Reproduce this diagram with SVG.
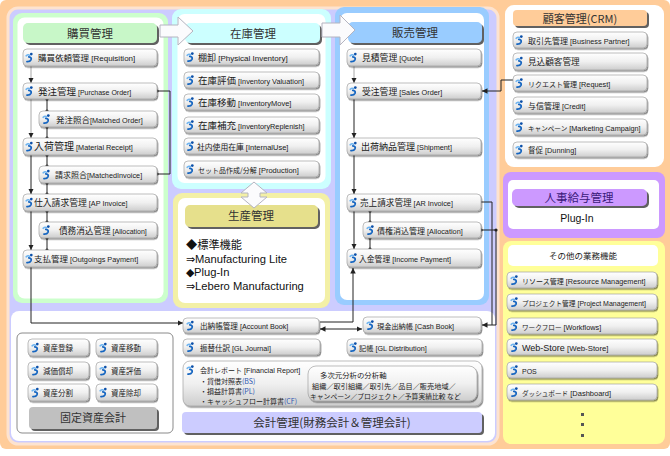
<svg xmlns="http://www.w3.org/2000/svg" width="670" height="456" viewBox="0 0 670 456">
<defs>
<linearGradient id="g" x1="0" y1="0" x2="0" y2="1"><stop offset="0" stop-color="#ffffff"/><stop offset=".5" stop-color="#f0f0f0"/><stop offset="1" stop-color="#cdcdcd"/></linearGradient>
<filter id="ds" x="-10%" y="-30%" width="120%" height="170%"><feDropShadow dx="1" dy="1.4" stdDeviation=".6" flood-color="#000" flood-opacity=".45"/></filter>
<filter id="hs" x="-10%" y="-30%" width="120%" height="170%"><feDropShadow dx="2" dy="2" stdDeviation=".4" flood-color="#444" flood-opacity=".85"/></filter>
<symbol id="ic" viewBox="0 0 10 12"><path d="M1.2,4.2 Q3.5,2.2 5.2,3.6" fill="none" stroke="#6db3f0" stroke-width="1.6" stroke-linecap="round"/><circle cx="7" cy="2.2" r="1.5" fill="#0b4fa8"/><path d="M4.2,5.2 Q7.8,5.6 6.6,8.6 Q5.6,10.8 2.2,10.6" fill="none" stroke="#1565c0" stroke-width="2" stroke-linecap="round"/></symbol>
<marker id="ar" viewBox="0 0 6 6" refX="6" refY="3" markerWidth="5.5" markerHeight="5.5" markerUnits="userSpaceOnUse" orient="auto-start-reverse"><path d="M0,0 L6,3 L0,6 z" fill="#222"/></marker>
<marker id="dt" viewBox="0 0 4 4" refX="2" refY="2" markerWidth="4" markerHeight="4" markerUnits="userSpaceOnUse"><circle cx="2" cy="2" r="1.6" fill="#222"/></marker>
<style>
.b{fill:url(#g);stroke:#a2a2a2;stroke-width:.7;filter:url(#ds)}
.j{font-family:"Noto Sans CJK JP","Noto Sans CJK SC",sans-serif;font-size:8.5px;fill:#1a1a1a}
.e{font-family:"Liberation Sans",Arial,sans-serif;font-size:7.3px;fill:#1a1a1a}
.h{font-family:"Noto Sans CJK JP","Noto Sans CJK SC",sans-serif;font-size:11.5px;fill:#333;text-anchor:middle}
.hd{filter:url(#hs)}
.l{fill:none;stroke:#222;stroke-width:1}
.lg{fill:none;stroke:#a8a8a8;stroke-width:1}
.bl{fill:#2d55b0}
.wa{fill:#fbfbfd;stroke:#b4b4c0;stroke-width:1}
</style>
</defs>

<g id="background">
<rect x="0" y="0" width="670" height="456" fill="#fff"/>
<rect x="0" y="0" width="670" height="449" rx="6" fill="#ffcc99"/>
<rect x="8" y="8" width="490" height="436" rx="10" fill="#ccccff" stroke="#fde3d0" stroke-width="3"/>
<rect x="13" y="13" width="155" height="290" rx="9" fill="#ccffcc"/>
<rect x="17.5" y="17.5" width="146" height="281" rx="7" fill="#fff"/>
<rect x="172" y="9" width="159" height="180" rx="9" fill="#ccffff"/>
<rect x="177.5" y="14" width="148" height="169" rx="7" fill="#fff"/>
<rect x="173" y="193" width="157" height="115" rx="9" fill="#f3f0a6"/>
<rect x="178" y="198" width="147" height="105" rx="7" fill="#fff"/>
<rect x="335" y="7" width="154" height="298" rx="9" fill="#99ccff"/>
<rect x="340" y="13" width="144" height="287" rx="7" fill="#fff"/>
<rect x="11" y="311" width="484" height="130" rx="8" fill="#fff"/>
<rect x="505" y="5" width="159" height="162" rx="9" fill="#fff"/>
<rect x="503" y="172" width="162" height="66" rx="8" fill="#cc99ff"/>
<rect x="508" y="180" width="151" height="49" rx="5" fill="#fff"/>
<rect x="503" y="241" width="162" height="203" rx="8" fill="#ffff99"/>
<rect x="508" y="245" width="150" height="21" rx="5" fill="#fff"/>
<rect x="17" y="333" width="156" height="100" rx="5" fill="#fff" stroke="#8a8a8a" stroke-width="1"/>
</g>

<g id="headers">
<g id="h-purchase"><rect class="hd" x="23" y="23" width="134" height="20" rx="5" fill="#c8f7c8"/><text class="h" x="90" y="37.5">購買管理</text></g>
<g id="h-inventory"><rect class="hd" x="185" y="23" width="135" height="20" rx="5" fill="#ccffff"/><text class="h" x="253" y="37.5">在庫管理</text></g>
<g id="h-sales"><rect class="hd" x="348" y="22" width="134" height="21" rx="5" fill="#99ccff"/><text class="h" x="415" y="37">販売管理</text></g>
<g id="h-production"><rect class="hd" x="185" y="205" width="133" height="22" rx="5" fill="#e6e08c"/><text class="h" x="251" y="220">生産管理</text></g>
<g id="h-crm"><rect class="hd" x="513" y="10" width="134" height="16" rx="4" fill="#ffcc99"/><text class="h" x="580" y="22.5" style="font-size:11px">顧客管理(CRM)</text></g>
<g id="h-hr"><rect class="hd" x="512" y="189" width="135" height="17" rx="5" fill="#cc99ff"/><text class="h" x="579" y="202" style="fill:#3a1a7a">人事給与管理</text></g>
<g id="h-fixed"><rect class="hd" x="29" y="407" width="128" height="22" rx="4" fill="#c0c0c0"/><text class="h" x="93" y="422" style="font-size:11px">固定資産会計</text></g>
<g id="h-accounting"><rect class="hd" x="182" y="412" width="300" height="21" rx="4" fill="#ccccff"/><text class="h" x="332" y="427">会計管理(財務会計＆管理会計)</text></g>
</g>

<g id="flow-arrows">
<polygon class="wa" points="160,25 178,25 178,17 193,31 178,45 178,37 160,37"/>
<polygon class="wa" points="322,23 340,23 340,15 355,30 340,45 340,37 322,37"/>
<polygon class="wa" points="254,182 267,193 260,193 260,197 267,197 254,208 241,197 248,197 248,193 241,193"/>
</g>

<g id="production-text" font-family="Liberation Sans, Arial, sans-serif" font-size="11.2" fill="#111">
<text x="186" y="249"><tspan font-family="Noto Sans CJK JP, sans-serif">◆標準機能</tspan></text>
<text x="186" y="262.5">⇒Manufacturing  Lite</text>
<text x="186" y="276">◆Plug-In</text>
<text x="186" y="289.5">⇒Lebero Manufacturing</text>
</g>
<g id="hr-text"><text x="577" y="222" font-family="Liberation Sans, Arial, sans-serif" font-size="10.5" fill="#111" text-anchor="middle">Plug-In</text></g>
<g id="other-title"><text x="583" y="259" class="j" text-anchor="middle">その他の業務機能</text></g>

<g id="connectors">
<path class="lg" d="M31,66 V83" marker-end="url(#ar)"/>
<path class="lg" d="M31,99 V138" marker-end="url(#ar)"/>
<path class="l" d="M31,155 V194" marker-end="url(#ar)"/>
<path class="l" d="M31,211 V250" marker-end="url(#ar)"/>
<path class="l" d="M31,267 V323 H183" marker-end="url(#ar)"/>
<path class="l" d="M47,99 V111" marker-start="url(#dt)" marker-end="url(#dt)"/>
<path class="l" d="M47,127 V138" marker-start="url(#dt)" marker-end="url(#dt)"/>
<path class="l" d="M47,155 V166" marker-start="url(#dt)" marker-end="url(#dt)"/>
<path class="l" d="M47,183 V194" marker-start="url(#dt)" marker-end="url(#dt)"/>
<path class="l" d="M47,211 V222" marker-start="url(#dt)" marker-end="url(#dt)"/>
<path class="l" d="M47,238 V250" marker-start="url(#dt)" marker-end="url(#dt)"/>
<path class="l" d="M157,91 H170 V174 H157" marker-start="url(#dt)" marker-end="url(#dt)"/>
<path class="lg" d="M354,66 V83" marker-end="url(#ar)"/>
<path class="l" d="M354,99 V138" marker-end="url(#ar)"/>
<path class="l" d="M354,155 V194" marker-end="url(#ar)"/>
<path class="l" d="M354,211 V249" marker-end="url(#ar)"/>
<path class="l" d="M370,211 V222" marker-start="url(#dt)" marker-end="url(#dt)"/>
<path class="l" d="M370,238 V249" marker-start="url(#dt)" marker-end="url(#dt)"/>
<path class="l" d="M513,80 H501 V91 H482" marker-end="url(#ar)"/>
<path class="l" d="M481,202 H492 V325 H482" marker-end="url(#ar)"/>
<path class="l" d="M481,230 H496 V325 H492" marker-start="url(#dt)"/>
<circle cx="496" cy="230" r="1.6" fill="#222"/>
<path class="l" d="M320,322 H353 V268" marker-end="url(#ar)"/>
<path class="l" d="M320,329 H362" marker-start="url(#ar)" marker-end="url(#ar)"/>
</g>

<g id="purchase">
<g id="n-requisition"><rect class="b" x="23" y="49" width="134" height="17" rx="4"/><use href="#ic" x="25" y="52" width="9" height="11"/><text x="38" y="60.5"><tspan class="j">購買依頼管理</tspan><tspan class="e" style="font-size:8px"> [Requisition]</tspan></text></g>
<g id="n-po"><rect class="b" x="23" y="83" width="134" height="16" rx="4"/><use href="#ic" x="25" y="85.5" width="9" height="11"/><text x="38" y="94.5"><tspan class="j" style="font-size:9.5px">発注管理</tspan><tspan class="e" style="font-size:7px"> [Purchase Order]</tspan></text></g>
<g id="n-matched-order"><rect class="b" x="39" y="111" width="118" height="16" rx="4"/><use href="#ic" x="42" y="113.5" width="9" height="11"/><text x="56" y="122.5"><tspan class="j" style="font-size:8.5px">発注照合</tspan><tspan class="e">[Matched Order]</tspan></text></g>
<g id="n-receipt"><rect class="b" x="23" y="138" width="134" height="17" rx="4"/><use href="#ic" x="25" y="141" width="9" height="11"/><text x="34" y="150"><tspan class="j" style="font-size:10px">入荷管理</tspan><tspan class="e"> [Material Receipt]</tspan></text></g>
<g id="n-matched-invoice"><rect class="b" x="39" y="166" width="118" height="17" rx="4"/><use href="#ic" x="42" y="169" width="9" height="11"/><text x="55" y="178"><tspan class="j" style="font-size:8px">請求照合</tspan><tspan class="e">[MatchedInvoice]</tspan></text></g>
<g id="n-ap-invoice"><rect class="b" x="23" y="194" width="134" height="17" rx="4"/><use href="#ic" x="25" y="197" width="9" height="11"/><text x="34" y="206"><tspan class="j" style="font-size:8.8px">仕入請求管理</tspan><tspan class="e"> [AP Invoice]</tspan></text></g>
<g id="n-ap-allocation"><rect class="b" x="39" y="222" width="118" height="16" rx="4"/><use href="#ic" x="42" y="224.5" width="9" height="11"/><text x="59" y="233.5"><tspan class="j" style="font-size:8.6px">債務消込管理</tspan><tspan class="e" style="font-size:7px"> [Allocation]</tspan></text></g>
<g id="n-payment"><rect class="b" x="23" y="250" width="134" height="17" rx="4"/><use href="#ic" x="25" y="253" width="9" height="11"/><text x="34" y="262"><tspan class="j">支払管理</tspan><tspan class="e"> [Outgoings Payment]</tspan></text></g>
</g>

<g id="inventory">
<g id="n-physical"><rect class="b" x="184" y="49" width="135" height="16" rx="4"/><use href="#ic" x="186" y="51.5" width="9" height="11"/><text x="198" y="60.5"><tspan class="j" style="font-size:9px">棚卸</tspan><tspan class="e" style="font-size:8px"> [Physical Inventory]</tspan></text></g>
<g id="n-valuation"><rect class="b" x="184" y="72" width="135" height="16" rx="4"/><use href="#ic" x="186" y="74.5" width="9" height="11"/><text x="198" y="84"><tspan class="j" style="font-size:9.5px">在庫評価</tspan><tspan class="e"> [Inventory Valuation]</tspan></text></g>
<g id="n-move"><rect class="b" x="184" y="94" width="135" height="16" rx="4"/><use href="#ic" x="186" y="96.5" width="9" height="11"/><text x="198" y="106"><tspan class="j" style="font-size:9.5px">在庫移動</tspan><tspan class="e" style="font-size:7.5px"> [InventoryMove]</tspan></text></g>
<g id="n-replenish"><rect class="b" x="184" y="117" width="135" height="16" rx="4"/><use href="#ic" x="186" y="119.5" width="9" height="11"/><text x="198" y="129"><tspan class="j" style="font-size:9.5px">在庫補充</tspan><tspan class="e"> [InventoryReplenish]</tspan></text></g>
<g id="n-internal"><rect class="b" x="184" y="138" width="135" height="16" rx="4"/><use href="#ic" x="186" y="140.5" width="9" height="11"/><text x="197" y="149.5"><tspan class="j" style="font-size:7.8px">社内使用在庫</tspan><tspan class="e" style="font-size:7.5px"> [InternalUse]</tspan></text></g>
<g id="n-production-set"><rect class="b" x="184" y="161" width="135" height="16" rx="4"/><use href="#ic" x="186" y="163.5" width="9" height="11"/><text x="198" y="172.5"><tspan class="j" style="font-size:7px">セット品作成/分解</tspan><tspan class="e" style="font-size:7.5px"> [Production]</tspan></text></g>
</g>

<g id="sales">
<g id="n-quote"><rect class="b" x="347" y="49" width="134" height="17" rx="4"/><use href="#ic" x="349" y="52" width="9" height="11"/><text x="362" y="61"><tspan class="j" style="font-size:8.8px">見積管理</tspan><tspan class="e"> [Quote]</tspan></text></g>
<g id="n-sales-order"><rect class="b" x="347" y="83" width="134" height="16" rx="4"/><use href="#ic" x="349" y="85.5" width="9" height="11"/><text x="362" y="94.5"><tspan class="j" style="font-size:8.8px">受注管理</tspan><tspan class="e"> [Sales Order]</tspan></text></g>
<g id="n-shipment"><rect class="b" x="347" y="138" width="134" height="17" rx="4"/><use href="#ic" x="349" y="141" width="9" height="11"/><text x="361" y="150"><tspan class="j" style="font-size:9px">出荷納品管理</tspan><tspan class="e"> [Shipment]</tspan></text></g>
<g id="n-ar-invoice"><rect class="b" x="347" y="194" width="134" height="17" rx="4"/><use href="#ic" x="349" y="197" width="9" height="11"/><text x="360" y="206"><tspan class="j" style="font-size:8.6px">売上請求管理</tspan><tspan class="e"> [AR Invoice]</tspan></text></g>
<g id="n-ar-allocation"><rect class="b" x="363" y="222" width="118" height="16" rx="4"/><use href="#ic" x="366" y="224.5" width="9" height="11"/><text x="377" y="233.5"><tspan class="j" style="font-size:8px">債権消込管理</tspan><tspan class="e"> [Allocation]</tspan></text></g>
<g id="n-income"><rect class="b" x="347" y="249" width="134" height="18" rx="4"/><use href="#ic" x="349" y="252.5" width="9" height="11"/><text x="359" y="261.5"><tspan class="j" style="font-size:7.8px">入金管理</tspan><tspan class="e"> [Income Payment]</tspan></text></g>
</g>

<g id="crm">
<g id="n-bp"><rect class="b" x="513" y="32" width="134" height="16" rx="4"/><use href="#ic" x="515" y="34.5" width="9" height="11"/><text x="528" y="43.5"><tspan class="j" style="font-size:8px">取引先管理</tspan><tspan class="e"> [Business Partner]</tspan></text></g>
<g id="n-prospect"><rect class="b" x="513" y="53" width="134" height="17" rx="4"/><use href="#ic" x="515" y="56" width="9" height="11"/><text x="528" y="65"><tspan class="j" style="font-size:8.6px">見込顧客管理</tspan></text></g>
<g id="n-request"><rect class="b" x="513" y="75" width="134" height="16" rx="4"/><use href="#ic" x="515" y="77.5" width="9" height="11"/><text x="528" y="86.5"><tspan class="j" style="font-size:7px">リクエスト管理</tspan><tspan class="e"> [Request]</tspan></text></g>
<g id="n-credit"><rect class="b" x="513" y="97" width="134" height="16" rx="4"/><use href="#ic" x="515" y="99.5" width="9" height="11"/><text x="528" y="108.5"><tspan class="j" style="font-size:8px">与信管理</tspan><tspan class="e"> [Credit]</tspan></text></g>
<g id="n-campaign"><rect class="b" x="513" y="119" width="134" height="16" rx="4"/><use href="#ic" x="515" y="121.5" width="9" height="11"/><text x="528" y="130.5"><tspan class="j" style="font-size:6.6px">キャンペーン</tspan><tspan class="e"> [Marketing Campaign]</tspan></text></g>
<g id="n-dunning"><rect class="b" x="513" y="142" width="134" height="15" rx="4"/><use href="#ic" x="515" y="144" width="9" height="11"/><text x="528" y="153"><tspan class="j" style="font-size:7.5px">督促</tspan><tspan class="e"> [Dunning]</tspan></text></g>
</g>

<g id="other">
<g id="n-resource"><rect class="b" x="507" y="272" width="150" height="16" rx="4"/><use href="#ic" x="510" y="274.5" width="9" height="11"/><text x="522" y="283.5"><tspan class="j" style="font-size:7px">リソース管理</tspan><tspan class="e"> [Resource Management]</tspan></text></g>
<g id="n-project"><rect class="b" x="507" y="294" width="150" height="16" rx="4"/><use href="#ic" x="510" y="296.5" width="9" height="11"/><text x="522" y="305.5"><tspan class="j" style="font-size:6.7px">プロジェクト管理</tspan><tspan class="e" style="font-size:7px"> [Project Management]</tspan></text></g>
<g id="n-workflow"><rect class="b" x="507" y="318" width="150" height="16" rx="4"/><use href="#ic" x="510" y="320.5" width="9" height="11"/><text x="522" y="329.5"><tspan class="j" style="font-size:6.6px">ワークフロー</tspan><tspan class="e"> [Workflows]</tspan></text></g>
<g id="n-webstore"><rect class="b" x="507" y="339" width="150" height="16" rx="4"/><use href="#ic" x="510" y="341.5" width="9" height="11"/><text x="522" y="351"><tspan class="e" style="font-size:9px">Web-Store</tspan><tspan class="e" style="font-size:7.8px"> [Web-Store]</tspan></text></g>
<g id="n-pos"><rect class="b" x="507" y="362" width="150" height="16" rx="4"/><use href="#ic" x="510" y="364.5" width="9" height="11"/><text x="522" y="373.5"><tspan class="e" style="font-size:7px">POS</tspan></text></g>
<g id="n-dashboard"><rect class="b" x="507" y="384" width="150" height="16" rx="4"/><use href="#ic" x="510" y="386.5" width="9" height="11"/><text x="522" y="395.5"><tspan class="j" style="font-size:6.6px">ダッシュボード</tspan><tspan class="e" style="font-size:7.5px"> [Dashboard]</tspan></text></g>
<rect x="581" y="413" width="3" height="3" fill="#555"/>
<rect x="581" y="423" width="3" height="3" fill="#555"/>
<rect x="581" y="434" width="3" height="3" fill="#555"/>
</g>

<g id="fixed-assets">
<g id="n-fa1"><rect class="b" x="28" y="339" width="61" height="17" rx="4"/><use href="#ic" x="31" y="342" width="9" height="11"/><text x="43" y="350.5" class="j" style="font-size:7.5px">資産登録</text></g>
<g id="n-fa2"><rect class="b" x="96" y="339" width="61" height="17" rx="4"/><use href="#ic" x="99" y="342" width="9" height="11"/><text x="111" y="350.5" class="j" style="font-size:7.5px">資産移動</text></g>
<g id="n-fa3"><rect class="b" x="28" y="362" width="61" height="17" rx="4"/><use href="#ic" x="31" y="365" width="9" height="11"/><text x="43" y="373.5" class="j" style="font-size:7.5px">減価償却</text></g>
<g id="n-fa4"><rect class="b" x="96" y="362" width="61" height="17" rx="4"/><use href="#ic" x="99" y="365" width="9" height="11"/><text x="111" y="373.5" class="j" style="font-size:7.5px">資産評価</text></g>
<g id="n-fa5"><rect class="b" x="28" y="384" width="61" height="17" rx="4"/><use href="#ic" x="31" y="387" width="9" height="11"/><text x="43" y="395.5" class="j" style="font-size:7.5px">資産分割</text></g>
<g id="n-fa6"><rect class="b" x="96" y="384" width="61" height="17" rx="4"/><use href="#ic" x="99" y="387" width="9" height="11"/><text x="111" y="395.5" class="j" style="font-size:7.5px">資産除却</text></g>
</g>

<g id="accounting">
<g id="n-account-book"><rect class="b" x="183" y="318" width="136" height="15" rx="4"/><use href="#ic" x="186" y="320" width="9" height="11"/><text x="200" y="328.5"><tspan class="j" style="font-size:7.6px">出納帳管理</tspan><tspan class="e" style="font-size:7.2px"> [Account Book]</tspan></text></g>
<g id="n-gl-journal"><rect class="b" x="183" y="339" width="137" height="16" rx="4"/><use href="#ic" x="186" y="341.5" width="9" height="11"/><text x="200" y="350.5"><tspan class="j" style="font-size:7.5px">振替仕訳</tspan><tspan class="e" style="font-size:7.2px"> [GL Journal]</tspan></text></g>
<g id="n-cash-book"><rect class="b" x="363" y="317" width="118" height="16" rx="4"/><use href="#ic" x="366" y="319.5" width="9" height="11"/><text x="377" y="328.5"><tspan class="j" style="font-size:7.2px">現金出納帳</tspan><tspan class="e" style="font-size:7.2px"> [Cash Book]</tspan></text></g>
<g id="n-gl-dist"><rect class="b" x="347" y="339" width="135" height="16" rx="4"/><use href="#ic" x="349" y="341.5" width="9" height="11"/><text x="359" y="350.5"><tspan class="j" style="font-size:7.2px">記帳</tspan><tspan class="e" style="font-size:7.2px"> [GL Distribution]</tspan></text></g>
<g id="n-report">
<rect class="b" x="183" y="361" width="299" height="45" rx="7"/>
<use href="#ic" x="186" y="364.5" width="9" height="11"/>
<text x="200" y="373"><tspan class="j" style="font-size:7px">会計レポート</tspan><tspan class="e" style="font-size:7.2px"> [Financial Report]</tspan></text>
<text x="200" y="383.5" class="j" style="font-size:7px">・貸借対照表<tspan class="bl">(BS)</tspan></text>
<text x="200" y="393.5" class="j" style="font-size:7px">・損益計算書<tspan class="bl">(PL)</tspan></text>
<text x="200" y="403.5" class="j" style="font-size:7px">・キャッシュフロー計算書<tspan class="bl">(CF)</tspan></text>
<rect x="308" y="366" width="169" height="35" rx="8" fill="url(#g)" stroke="#a2a2a2" stroke-width=".7" filter="url(#ds)"/>
<text x="320" y="378" class="j" style="font-size:7.4px">多次元分析の分析軸</text>
<text x="312" y="388.5" class="j" style="font-size:7.2px">組織／取引組織／取引先／品目／販売地域／</text>
<text x="310" y="398.5" class="j" style="font-size:6.8px">キャンペーン／プロジェクト／予算実績比較 など</text>
</g>
</g>
</svg>
